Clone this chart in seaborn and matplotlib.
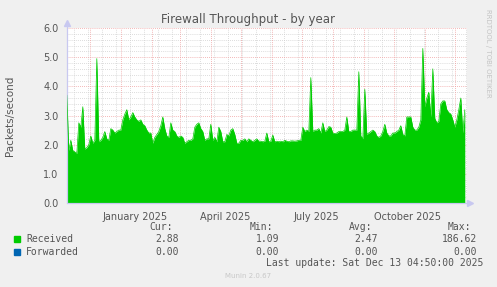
import numpy as np
import pandas as pd
import matplotlib
matplotlib.use("Agg")
import matplotlib.pyplot as plt
import matplotlib.dates as mdates
from matplotlib.patches import Rectangle
import seaborn as sns

# ---------------- data ----------------
start_date = "2024-11-08"
step = "2D"
received = [
    3.7, 1.8, 2.15, 1.8, 1.75, 1.7, 2.75, 2.6, 3.3, 1.85,
    1.9, 2.0, 2.3, 2.05, 2.15, 4.95, 2.1, 2.15, 2.25, 2.45,
    2.2, 2.15, 2.55, 2.5, 2.4, 2.45, 2.5, 2.5, 2.85, 3.05,
    3.2, 2.85, 2.95, 3.1, 2.95, 2.85, 2.8, 2.85, 2.7, 2.65,
    2.5, 2.4, 2.4, 2.05, 2.25, 2.35, 2.45, 2.65, 2.95, 2.55,
    2.3, 2.25, 2.75, 2.5, 2.45, 2.3, 2.25, 2.3, 2.25, 2.05,
    2.1, 2.15, 2.15, 2.2, 2.6, 2.7, 2.75, 2.55, 2.45, 2.15,
    2.2, 2.2, 2.7, 2.15, 2.25, 2.1, 2.6, 2.45, 2.1, 2.1,
    2.35, 2.3, 2.5, 2.55, 2.35, 2.05, 2.05, 2.15, 2.15, 2.2,
    2.1, 2.2, 2.15, 2.1, 2.15, 2.2, 2.12, 2.12, 2.1, 2.12,
    2.4, 2.1, 2.12, 2.33, 2.1, 2.12, 2.1, 2.12, 2.1, 2.15,
    2.12, 2.1, 2.13, 2.13, 2.12, 2.13, 2.15, 2.15, 2.6, 2.45,
    2.5, 2.45, 4.3, 2.45, 2.5, 2.5, 2.55, 2.4, 2.75, 2.45,
    2.5, 2.62, 2.6, 2.4, 2.38, 2.4, 2.45, 2.45, 2.45, 2.5,
    2.95, 2.45, 2.45, 2.5, 2.5, 2.5, 4.5, 2.3, 2.2, 3.9,
    2.35, 2.4, 2.45, 2.5, 2.45, 2.3, 2.25, 2.3, 2.45, 2.7,
    2.4, 2.3, 2.3, 2.4, 2.4, 2.45, 2.5, 2.65, 2.35, 2.3,
    2.95, 2.95, 2.95, 2.6, 2.5, 2.5, 2.6, 2.85, 5.3, 3.3,
    3.6, 3.8, 2.95, 4.6, 2.9, 2.75, 2.8, 3.4, 3.5, 3.5,
    3.2, 3.1, 3.05, 2.85, 2.6, 2.85, 3.2, 3.6, 2.4, 3.2,
]
forwarded = [0.0] * len(received)

y_ticks = [0.0, 1.0, 2.0, 3.0, 4.0, 5.0, 6.0]
month_labels = ["January 2025", "April 2025", "July 2025", "October 2025"]
month_label_dates = ["2025-01-15", "2025-04-15", "2025-07-15", "2025-10-15"]

legend_names = ["Received", "Forwarded"]
legend_colors = ["#00cc00", "#0066b3"]
cur_vals = ["2.88", "0.00"]
min_vals = ["1.09", "0.00"]
avg_vals = ["2.47", "0.00"]
max_vals = ["186.62", "0.00"]

# ---------------- figure ----------------
W, H = 497, 287
sns.set_style("white")
plt.rcParams["font.family"] = ["DejaVu Sans"]
fig = plt.figure(figsize=(W / 100, H / 100), dpi=100, facecolor="#f0f0f0")
ax = fig.add_axes([67 / W, 84 / H, 400 / W, 175 / H])
ax.set_facecolor("white")

dates = pd.date_range(start_date, periods=len(received), freq=step)
df = pd.DataFrame({"date": dates, "received": received, "forwarded": forwarded})

x0 = pd.Timestamp("2024-11-08 04:50")
x1 = pd.Timestamp("2025-12-13 04:50")
ax.set_xlim(x0, x1)
ax.set_ylim(0, 6.0)

# grid
minor_grid = pd.date_range("2024-11-15", x1, freq="14D")
major_grid = pd.date_range("2024-12-01", x1, freq="MS")
for d in minor_grid:
    ax.axvline(d, color="#d0d0d0", lw=0.6, ls=(0, (1, 1.5)), zorder=0)
for yv in np.arange(0.2, 6.0, 0.2):
    if abs(yv - round(yv)) > 1e-6:
        ax.axhline(yv, color="#d0d0d0", lw=0.6, ls=(0, (1, 1.5)), zorder=0)
for d in major_grid:
    ax.axvline(d, color="#f0a0a0", lw=0.6, ls=(0, (1, 1.5)), zorder=0.5)
for yv in y_ticks[1:]:
    ax.axhline(yv, color="#f0a0a0", lw=0.6, ls=(0, (1, 1.5)), zorder=0.5)

# data
sns.lineplot(data=df, x="date", y="forwarded", color=legend_colors[1], lw=0.8, ax=ax, zorder=1)
ax.fill_between(df["date"], df["received"], color=legend_colors[0], lw=0, zorder=2)
sns.lineplot(data=df, x="date", y="received", color=legend_colors[0], lw=0.5, ax=ax, zorder=3)

ax.set_xlabel("")
ax.set_ylabel("")
ax.set_xlim(x0, x1)
ax.set_ylim(0, 6.0)

# axes styling
for s in ["top", "right"]:
    ax.spines[s].set_visible(False)
for s in ["left", "bottom"]:
    ax.spines[s].set_color("#c8c8f0")
    ax.spines[s].set_linewidth(0.8)
ax.plot([0], [1.03], marker="^", color="#c8c8f0", ms=4, transform=ax.transAxes, clip_on=False)
ax.plot([0, 1.0 + 3 / 400], [0, 0], color="#c8c8f0", lw=0.8, transform=ax.transAxes, clip_on=False)
ax.plot([1.0 + 3 / 400], [0], marker=">", color="#c8c8f0", ms=4, transform=ax.transAxes, clip_on=False)
ax.plot([0, 0], [0, 1.03], color="#c8c8f0", lw=0.8, transform=ax.transAxes, clip_on=False)

ax.set_yticks(y_ticks)
ax.set_yticklabels([f"{v:.1f}" for v in y_ticks])
ax.tick_params(axis="y", length=2, width=0.6, color="#f0a0a0", labelsize=7, labelcolor="#555555", pad=4)
ax.set_xticks(mdates.date2num(major_grid))
ax.set_xticklabels([])
ax.tick_params(axis="x", length=2, width=0.6, color="#f0a0a0", direction="out")

for lab, d in zip(month_labels, month_label_dates):
    ax.text(pd.Timestamp(d), -0.05, lab, transform=ax.get_xaxis_transform(),
            ha="center", va="top", fontsize=7, color="#555555")

# titles / labels
fig.text(248 / W, 1 - 19 / H, "Firewall Throughput - by year", ha="center", va="center",
         fontsize=8.5, color="#555555")
fig.text(10 / W, 1 - 116 / H, "Packets/second", rotation=90, ha="center", va="center",
         fontsize=7.5, color="#555555")
fig.text(488 / W, 1 - 53 / H, "RRDTOOL / TOBI OETIKER", rotation=270, ha="center", va="center",
         fontsize=5, color="#c4c4c4")

# legend table
mono = "DejaVu Sans Mono"
tc = "#555555"
fs = 7
header_y = 1 - 227 / H
for txt, xr in [("Cur:", 173), ("Min:", 273), ("Avg:", 372), ("Max:", 471)]:
    fig.text(xr / W, header_y, txt, ha="right", va="center", family=mono, fontsize=fs, color=tc)
rows_y = [239, 252]
for i in range(2):
    yy = 1 - rows_y[i] / H
    fig.patches.append(Rectangle((14 / W, 1 - (rows_y[i] + 3) / H), 6 / W, 6 / H,
                                 transform=fig.transFigure, color=legend_colors[i]))
    fig.text(26 / W, yy, legend_names[i], ha="left", va="center", family=mono, fontsize=fs, color=tc)
    for val, xr in [(cur_vals[i], 179), (min_vals[i], 279), (avg_vals[i], 378), (max_vals[i], 477)]:
        fig.text(xr / W, yy, val, ha="right", va="center", family=mono, fontsize=fs, color=tc)
fig.text(483 / W, 1 - 263 / H, "Last update: Sat Dec 13 04:50:00 2025", ha="right", va="center",
         family=mono, fontsize=fs, color=tc)
fig.text(248 / W, 1 - 276 / H, "Munin 2.0.67", ha="center", va="center", fontsize=5, color="#c8c8c8")

fig.savefig("out.png", dpi=100, facecolor=fig.get_facecolor())
